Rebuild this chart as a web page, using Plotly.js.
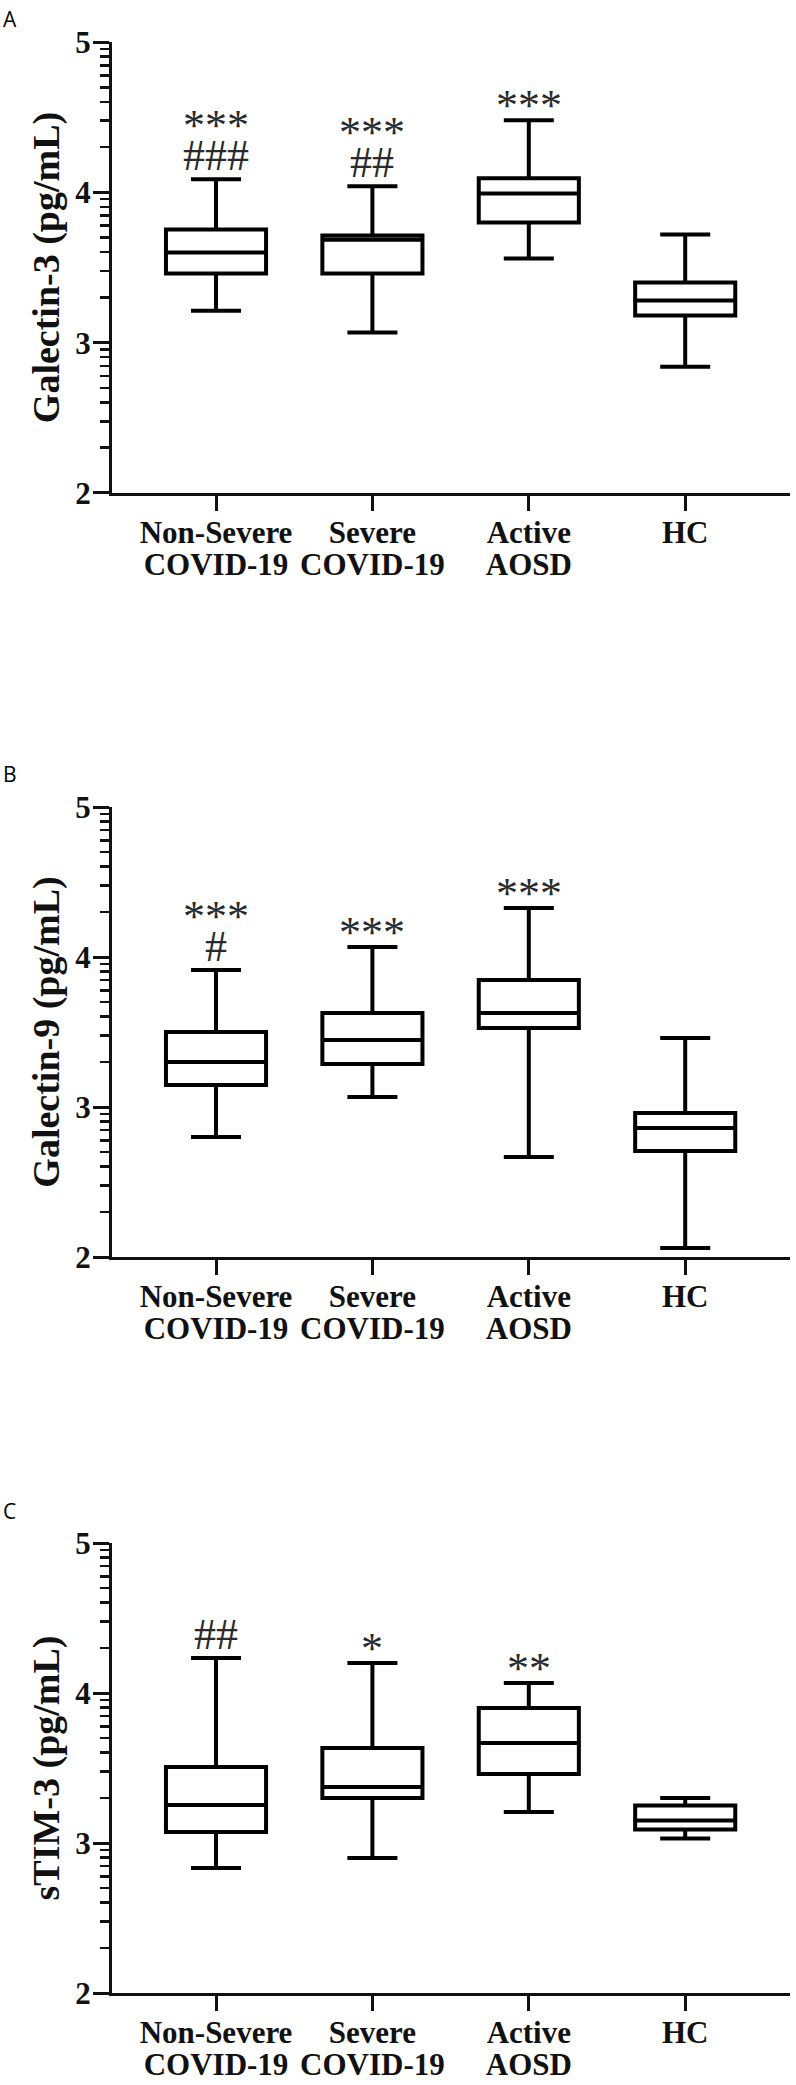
<!DOCTYPE html>
<html>
<head>
<meta charset="utf-8">
<script src="https://cdn.plot.ly/plotly-3.0.1.min.js"></script>
<style>html,body{margin:0;padding:0;background:#fff;}#chart{width:796px;height:2085px;}</style>
</head>
<body>
<div id="chart"></div>
<script>
// ---- data (log10 pg/mL) ----
const categories = ['Non-Severe COVID-19', 'Severe COVID-19', 'Active AOSD', 'HC'];
const categoryLine1 = ['Non-Severe', 'Severe', 'Active', 'HC'];
const categoryLine2 = ['COVID-19', 'COVID-19', 'AOSD', ''];
const yTickVals = [2, 3, 4, 5];
const yTickText = ['2', '3', '4', '5'];
const panelLetters = ['A', 'B', 'C'];
const yTitles = ['Galectin-3 (pg/mL)', 'Galectin-9 (pg/mL)', 'sTIM-3 (pg/mL)'];

// Panel A: Galectin-3
const gal3Lower  = [3.213, 3.067, 3.56, 2.84];
const gal3Q1     = [3.46, 3.46, 3.80, 3.18];
const gal3Median = [3.60, 3.685, 3.993, 3.28];
const gal3Q3     = [3.753, 3.713, 4.093, 3.40];
const gal3Upper  = [4.087, 4.04, 4.48, 3.72];
const gal3Stars  = ['***', '***', '***', ''];
const gal3Hashes = ['###', '##', '', ''];

// Panel B: Galectin-9
const gal9Lower  = [2.80, 3.067, 2.667, 2.06];
const gal9Q1     = [3.147, 3.287, 3.527, 2.707];
const gal9Median = [3.30, 3.447, 3.627, 2.86];
const gal9Q3     = [3.50, 3.627, 3.847, 2.96];
const gal9Upper  = [3.913, 4.067, 4.327, 3.46];
const gal9Stars  = ['***', '***', '***', ''];
const gal9Hashes = ['#', '', '', ''];

// Panel C: sTIM-3
const tim3Lower  = [2.833, 2.90, 3.207, 3.03];
const tim3Q1     = [3.073, 3.30, 3.46, 3.09];
const tim3Median = [3.253, 3.373, 3.667, 3.15];
const tim3Q3     = [3.507, 3.633, 3.90, 3.25];
const tim3Upper  = [4.233, 4.20, 4.067, 3.30];
const tim3Stars  = ['', '*', '**', ''];
const tim3Hashes = ['##', '', '', ''];

// ---- build ----
const panels = [
  {lo: gal3Lower, q1: gal3Q1, med: gal3Median, q3: gal3Q3, up: gal3Upper, stars: gal3Stars, hashes: gal3Hashes},
  {lo: gal9Lower, q1: gal9Q1, med: gal9Median, q3: gal9Q3, up: gal9Upper, stars: gal9Stars, hashes: gal9Hashes},
  {lo: tim3Lower, q1: tim3Q1, med: tim3Median, q3: tim3Q3, up: tim3Upper, stars: tim3Stars, hashes: tim3Hashes}
];

const domains = [[0.76884, 1], [0.37724, 0.60789], [0, 0.23065]];
const xRange = [-0.665, 3.67];

// minor ticks at log positions
const minorVals = [];
for (let d = 2; d < 5; d++) {
  for (let k = 2; k <= 9; k++) minorVals.push(d + Math.log10(k));
}

const serif = 'Liberation Serif, Times New Roman, serif';
const tickFont = {family: serif, size: 31, color: '#111', weight: 700};
const sigFont = {family: serif, size: 44, color: '#2a2a2a'};

const traces = [];
const annotations = [];
const layout = {
  width: 796, height: 2085,
  margin: {l: 112, r: 6, t: 42, b: 92},
  paper_bgcolor: '#fff', plot_bgcolor: '#fff',
  showlegend: false,
  annotations: annotations
};

panels.forEach((p, i) => {
  const xa = i === 0 ? 'x' : 'x' + (i + 1);
  const ya = i === 0 ? 'y' : 'y' + (i + 1);
  const xKey = i === 0 ? 'xaxis' : 'xaxis' + (i + 1);
  const yKey = i === 0 ? 'yaxis' : 'yaxis' + (i + 1);
  const x2n = i + 4; // overlay axis carrying the second label line
  traces.push({
    type: 'box',
    x: categories,
    q1: p.q1, median: p.med, q3: p.q3,
    lowerfence: p.lo, upperfence: p.up,
    xaxis: xa, yaxis: ya,
    width: 0.64,
    whiskerwidth: 0.5,
    fillcolor: '#ffffff',
    line: {color: '#000', width: 4},
    boxpoints: false,
    hoverinfo: 'skip'
  });
  // empty trace so the overlay label axis is instantiated
  traces.push({
    type: 'scatter', mode: 'markers', x: [], y: [],
    xaxis: 'x' + x2n, yaxis: ya, hoverinfo: 'skip', showlegend: false
  });
  layout[xKey] = {
    type: 'category',
    categoryarray: categories, categoryorder: 'array',
    range: xRange,
    anchor: ya,
    showline: true, linecolor: '#111', linewidth: 3,
    showgrid: false, zeroline: false,
    ticks: 'outside', ticklen: 15, tickwidth: 3, tickcolor: '#111',
    tickvals: categories, ticktext: categoryLine1,
    tickfont: tickFont,
    ticklabelstandoff: -5,
    fixedrange: true
  };
  layout['xaxis' + x2n] = {
    type: 'linear',
    overlaying: xa,
    anchor: ya,
    side: 'bottom',
    range: xRange,
    autorange: false,
    showline: false, showgrid: false, zeroline: false,
    ticks: 'outside', ticklen: 15, tickwidth: 0, tickcolor: 'rgba(0,0,0,0)',
    tickmode: 'array', tickvals: [0, 1, 2, 3], ticktext: categoryLine2,
    tickfont: tickFont,
    ticklabelstandoff: 29,
    fixedrange: true
  };
  layout[yKey] = {
    domain: domains[i],
    anchor: xa,
    range: [2, 5],
    showline: true, linecolor: '#111', linewidth: 3,
    showgrid: false, zeroline: false,
    ticks: 'outside', ticklen: 16, tickwidth: 3, tickcolor: '#111',
    tickvals: yTickVals, ticktext: yTickText,
    tickfont: tickFont,
    ticklabelstandoff: -4,
    minor: {tickvals: minorVals, ticks: 'outside', ticklen: 9, tickwidth: 2.5, tickcolor: '#111', showgrid: false},
    title: {text: yTitles[i], font: {family: serif, size: 38, color: '#111', weight: 700}, standoff: 4},
    fixedrange: true
  };
  // significance marks
  categories.forEach((c, j) => {
    const hasHash = p.hashes[j] !== '';
    if (hasHash) {
      annotations.push({
        xref: xa, yref: ya, x: c, y: p.up[j],
        text: p.hashes[j], showarrow: false,
        yanchor: 'bottom', yshift: -3,
        font: sigFont
      });
    }
    if (p.stars[j] !== '') {
      annotations.push({
        xref: xa, yref: ya, x: c, y: p.up[j],
        text: p.stars[j], showarrow: false,
        yanchor: 'bottom', yshift: hasHash ? 27 : -12,
        font: sigFont
      });
    }
  });
});

// panel letters (paper coords are relative to the plot area: top 42px, height 1951px, left 112px, width 678px)
const letterTopPx = [3, 758, 1495];
panelLetters.forEach((L, i) => {
  annotations.push({
    xref: 'paper', yref: 'paper', x: (1 - 112) / 678, y: 1 - (letterTopPx[i] - 42) / 1951,
    xanchor: 'left', yanchor: 'top',
    text: L, showarrow: false,
    font: {family: 'Open Sans, Noto Sans, sans-serif', size: 21, color: '#000'}
  });
});

Plotly.newPlot('chart', traces, layout, {displayModeBar: false, staticPlot: true});
</script>
</body>
</html>
